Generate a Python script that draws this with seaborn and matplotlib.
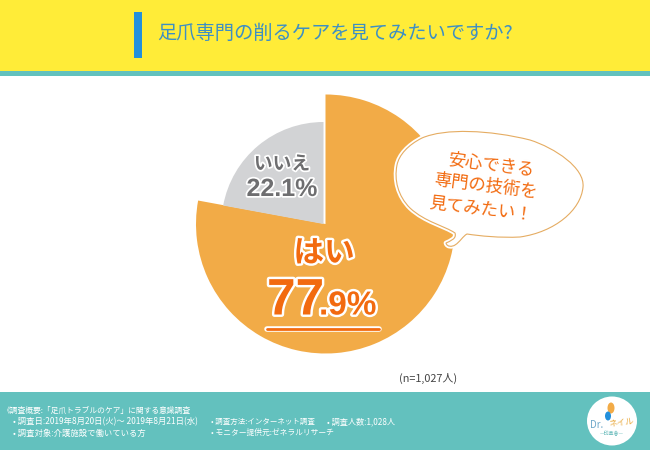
import matplotlib
matplotlib.use("Agg")
import matplotlib.pyplot as plt
import matplotlib.patheffects as pe
from matplotlib.patches import Rectangle, PathPatch, Ellipse
from matplotlib.path import Path
import seaborn as sns

sns.set_theme(style="white")
plt.rcParams['font.family'] = ['Noto Sans CJK JP', 'DejaVu Sans']

categories = ["はい", "いいえ"]
values = [77.9, 22.1]
title = "足爪専門の削るケアを見てみたいですか?"
bubble_lines = ["安心できる", "専門の技術を", "見てみたい！"]
note = "(n=1,027人)"
footer_lines = ["《調査概要:「足爪トラブルのケア」に関する意識調査",
                "• 調査日:2019年8月20日(火)～ 2019年8月21日(水)",
                "• 調査対象:介護施設で働いている方",
                "• 調査方法:インターネット調査",
                "• 調査人数:1,028人",
                "• モニター提供元:ゼネラルリサーチ"]

ORANGE, GRAY, RED, YEL, TEAL, BLUE = "#F2AB47", "#D2D3D5", "#F26A0F", "#FFEC38", "#63C1BE", "#2390DC"

fig = plt.figure(figsize=(6.5, 4.5), dpi=100, facecolor="white")
ax = fig.add_axes([0, 0, 1, 1])

ax.add_patch(Rectangle((0, 0), 650, 71, fc=YEL, ec="none", zorder=0))
ax.add_patch(Rectangle((0, 71), 650, 5, fc=TEAL, ec="none", zorder=0))
ax.add_patch(Rectangle((0, 392), 650, 58, fc=TEAL, ec="none", zorder=0))
ax.add_patch(Rectangle((134, 12), 8, 46, fc=BLUE, ec="none", zorder=1))

# y axis is inverted below, so a counter-clockwise pie from 270 reads clockwise from the top
w1, _ = ax.pie(values, colors=[ORANGE, "none"], radius=129.5, center=(325.5, 224),
               startangle=270, counterclock=True, frame=True)
w2, _ = ax.pie(values, colors=["none", GRAY], radius=102, center=(323.5, 224),
               startangle=270, counterclock=True, frame=True)
for w in w1 + w2:
    w.set_linewidth(0)

ax.set_xlim(0, 650)
ax.set_ylim(450, 0)
ax.set_aspect("equal")
ax.axis("off")

# speech bubble
M, C = Path.MOVETO, Path.CURVE4
verts = [(422, 138),
         (445, 128), (490, 130), (530, 140),
         (555, 148), (585, 168), (583, 187),
         (581, 210), (555, 232), (520, 237),
         (500, 238), (480, 236), (467, 234),
         (463, 236), (460, 242), (455, 245),
         (452, 247), (447, 247), (446, 243),
         (450, 241), (457, 239), (455, 233),
         (445, 226), (425, 222), (410, 208),
         (398, 196), (394, 180), (397, 165),
         (399, 155), (408, 145), (422, 138)]
codes = [M] + [C] * 30
ax.add_patch(PathPatch(Path(verts, codes), fc="white", ec="white", lw=3.4, zorder=4, joinstyle="round"))
ax.add_patch(PathPatch(Path(verts, codes), fc="white", ec="#E5AC62", lw=0.8, zorder=5))

for (x, y), s in zip([(491, 165), (486, 186), (481, 209)], bubble_lines):
    ax.text(x, y, s, color=RED, fontsize=12.5, rotation=-7, ha="center", va="center", zorder=6,
            fontweight="normal", rotation_mode="anchor")

halo = [pe.withStroke(linewidth=3.5, foreground="white")]
ax.text(324, 253, categories[0], color=RED, fontsize=22, fontweight="bold", ha="center", va="center",
        path_effects=halo, zorder=6)
ax.text(267, 301, "77", color=RED, fontsize=37, fontweight="bold", ha="left", va="center",
        family=["Liberation Sans"], path_effects=halo, zorder=6)
ax.text(319, 306, ".9%", color=RED, fontsize=24, fontweight="bold", ha="left", va="center",
        family=["Liberation Sans"], path_effects=halo, zorder=6)
ax.plot([267, 379], [329, 329], color="white", lw=4, solid_capstyle="round", zorder=5.5)
ax.plot([267, 379], [329, 329], color=RED, lw=2, zorder=6)

gray_halo = [pe.withStroke(linewidth=2.5, foreground="white")]
ax.text(282, 164, categories[1], color="#6E6E70", fontsize=13.5, fontweight="bold", ha="center", va="center",
        path_effects=gray_halo, zorder=6)
ax.text(282, 189, f"{values[1]}%", color="#6E6E70", fontsize=18, fontweight="bold", ha="center", va="center",
        family=["Liberation Sans"], path_effects=gray_halo, zorder=6)

ax.text(428.5, 378, note, color="#444444", fontsize=7.8, ha="center", va="center")

fc = "white"
ax.text(3, 411, footer_lines[0], color=fc, fontsize=5.6, va="center")
ax.text(13, 422, footer_lines[1], color=fc, fontsize=6.0, va="center")
ax.text(13, 433, footer_lines[2], color=fc, fontsize=6.0, va="center")
ax.text(211, 422, footer_lines[3], color=fc, fontsize=5.4, va="center")
ax.text(327, 422, footer_lines[4], color=fc, fontsize=5.9, va="center")
ax.text(211, 433, footer_lines[5], color=fc, fontsize=5.6, va="center")

ax.text(157, 33.5, title, color="#3D8FC4", fontsize=13.9, ha="left", va="center", zorder=3)

# logo
ax.add_patch(Ellipse((612, 421), 50, 49, fc="white", ec="none", zorder=3))
ax.add_patch(Ellipse((611, 408), 7, 11, fc="#F2AB47", ec="none", zorder=4))
ax.add_patch(Ellipse((608, 416), 6, 9, fc="#2390DC", ec="none", zorder=4))
ax.text(597, 425, "Dr.", color="#6FA8C9", fontsize=7, ha="center", va="center", zorder=5)
ax.text(621, 423, "ネイル", color="#E9A93D", fontsize=6, ha="center", va="center", rotation=8, zorder=5)
ax.text(612, 433.5, "—印革會—", color="#5BB5B5", fontsize=3.6, ha="center", va="center", zorder=5)

fig.savefig("out.png", dpi=100)
